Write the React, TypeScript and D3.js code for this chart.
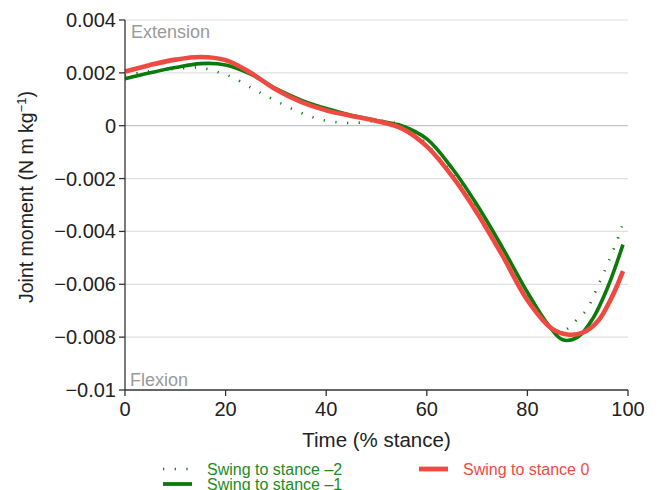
import React from "react";
import * as d3 from "d3";

// Joint moment over the stance phase for three swing-to-stance conditions
const stanceX0 = [0, 5, 10, 15, 20, 25, 30, 35, 40, 45, 50, 55, 60, 65, 70, 75, 80, 85, 88, 91, 94, 97, 99];
const stance0 = [0.00205, 0.0023, 0.0025, 0.0026, 0.00248, 0.002, 0.00137, 0.0009, 0.00058, 0.00037, 0.00018, -0.0001, -0.00078, -0.0019, -0.0033, -0.0049, -0.0066, -0.0077, -0.0079, -0.00783, -0.0074, -0.0064, -0.0055];

const stanceXm1 = [0, 5, 10, 15, 20, 25, 30, 35, 40, 45, 50, 55, 60, 65, 70, 75, 80, 84, 87, 90, 93, 96, 99];
const stanceM1 = [0.00178, 0.002, 0.0022, 0.00235, 0.0023, 0.00195, 0.0014, 0.00097, 0.00065, 0.0004, 0.0002, 0.0, -0.0005, -0.0016, -0.003, -0.0046, -0.0063, -0.0075, -0.0081, -0.008, -0.0073, -0.0061, -0.0045];

const stanceXm2 = [0, 4.4, 9.6, 14.3, 16.9, 18.9, 21.3, 25.4, 29.6, 34, 38.4, 43.1, 47, 50.3, 52.7, 54.9, 57.1, 60, 65, 70, 75, 80, 84, 86.5, 88.5, 90, 91.8, 93.8, 96, 98.4, 99];
const stanceM2 = [0.0019, 0.00205, 0.00214, 0.0022, 0.00212, 0.002, 0.00184, 0.0014, 0.00098, 0.00057, 0.00026, 0.00011, 0.00012, 0.00019, 0.00015, 0.00004, -0.00019, -0.0007, -0.0018, -0.0032, -0.0049, -0.0065, -0.00755, -0.0078, -0.0076, -0.0073, -0.00696, -0.00616, -0.0052, -0.00405, -0.00367];

const xTicks = [0, 20, 40, 60, 80, 100];
const yTicks = [0.004, 0.002, 0, -0.002, -0.004, -0.006, -0.008, -0.01];
const yTickLabels = ["0.004", "0.002", "0", "\u22120.002", "\u22120.004", "\u22120.006", "\u22120.008", "\u22120.01"];

const seriesNames = ["Swing to stance \u20132", "Swing to stance \u20131", "Swing to stance 0"];

const GREEN = "#0b7a0b";
const GREEN_TEXT = "#1c8c1c";
const RED = "#ef4a42";
const FONT = "'Liberation Sans', Arial, Helvetica, sans-serif";

export default function App() {
  const width = 661;
  const height = 490;
  const left = 125;
  const right = 628;
  const top = 20;
  const bottom = 390;

  const x = d3.scaleLinear().domain([0, 100]).range([left, right]);
  const y = d3.scaleLinear().domain([-0.01, 0.004]).range([bottom, top]);

  const lineFor = (xs: number[], ys: number[]) =>
    d3
      .line<number>()
      .x((_, i) => x(xs[i]))
      .y((v) => y(v))
      .curve(d3.curveCatmullRom.alpha(0.5))(ys) || "";

  return (
    <div style={{ position: "absolute", left: 0, top: 0 }}>
      <svg width={width} height={height} style={{ display: "block", fontFamily: FONT }}>
        <rect width={width} height={height} fill="#fff" />
        {/* horizontal gridlines */}
        {yTicks.map((t) =>
          t === -0.01 ? null : (
            <line
              key={"g" + t}
              x1={left}
              x2={right}
              y1={y(t)}
              y2={y(t)}
              stroke={t === 0 ? "#c4c4c4" : "#e0e0e0"}
              strokeWidth={1.2}
            />
          )
        )}

        <text x={131} y={38} fontSize={18} fill="#9a9a9a">Extension</text>
        <text x={130} y={386} fontSize={18} fill="#9a9a9a">Flexion</text>

        {/* series */}
        <path d={lineFor(stanceXm2, stanceM2)} fill="none" stroke={GREEN} strokeWidth={2.6} strokeDasharray="1.2 10.5" />
        <path d={lineFor(stanceXm1, stanceM1)} fill="none" stroke={GREEN} strokeWidth={3.6} />
        <path d={lineFor(stanceX0, stance0)} fill="none" stroke={RED} strokeWidth={4.6} />

        {/* axes */}
        <line x1={left} x2={left} y1={top} y2={bottom} stroke="#333" strokeWidth={1.3} />
        <line x1={left} x2={right} y1={bottom} y2={bottom} stroke="#333" strokeWidth={1.3} />
        {yTicks.map((t, i) => (
          <g key={"y" + t}>
            <line x1={left - 6} x2={left} y1={y(t)} y2={y(t)} stroke="#333" strokeWidth={1.3} />
            <text x={left - 9} y={y(t)} dy="0.35em" textAnchor="end" fontSize={20} fill="#222">
              {yTickLabels[i]}
            </text>
          </g>
        ))}
        {xTicks.map((t) => (
          <g key={"x" + t}>
            <line x1={x(t)} x2={x(t)} y1={bottom} y2={bottom + 6} stroke="#333" strokeWidth={1.3} />
            <text x={x(t)} y={bottom + 26} textAnchor="middle" fontSize={20} fill="#222">
              {t}
            </text>
          </g>
        ))}

        <text x={(left + right) / 2} y={447} textAnchor="middle" fontSize={20.5} fill="#222">
          Time (% stance)
        </text>
        <text
          transform={`translate(33, ${(top + bottom) / 2 - 8}) rotate(-90)`}
          textAnchor="middle"
          fontSize={19.5}
          fill="#222"
        >
          Joint moment (N m kg
          <tspan dy={-7} fontSize={13}>{"\u22121"}</tspan>
          <tspan dy={7}>)</tspan>
        </text>

        {/* legend */}
        <line x1={163} x2={192} y1={469} y2={469} stroke={GREEN} strokeWidth={2.6} strokeDasharray="1.2 10.5" />
        <text x={207} y={475} fontSize={16} fill={GREEN_TEXT}>{seriesNames[0]}</text>
        <line x1={163} x2={192} y1={484} y2={484} stroke={GREEN} strokeWidth={3.8} />
        <text x={207} y={490} fontSize={16} fill={GREEN_TEXT}>{seriesNames[1]}</text>
        <line x1={419} x2={448} y1={469} y2={469} stroke={RED} strokeWidth={4.8} />
        <text x={463} y={475} fontSize={16} fill={RED}>{seriesNames[2]}</text>
      </svg>
    </div>
  );
}
